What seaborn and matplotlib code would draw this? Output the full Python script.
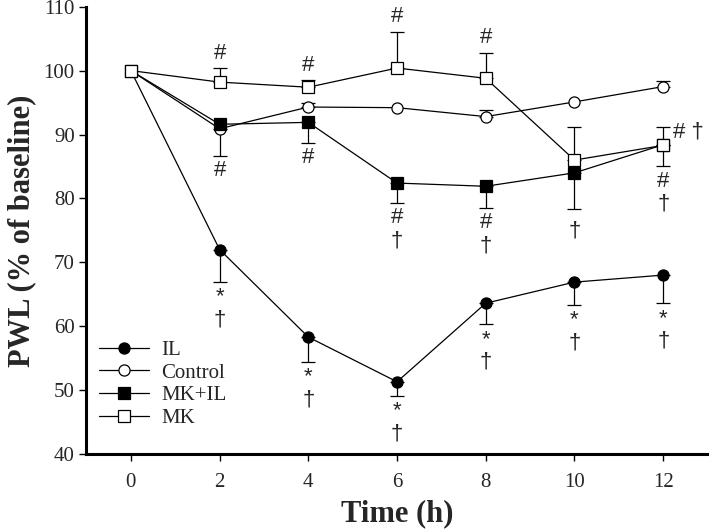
import numpy as np
import pandas as pd
import matplotlib
matplotlib.use("Agg")
import matplotlib.pyplot as plt
import seaborn as sns

# time points (h)
hours = [0, 2, 4, 6, 8, 10, 12]

# PWL, % of baseline
il_mean = [100, 72.0, 58.3, 51.3, 63.6, 66.9, 68.0]
il_err_lo = [0, 5.1, 3.9, 2.2, 3.3, 3.6, 4.4]
il_err_hi = [0, 0, 0, 0, 0, 0, 0]

control_mean = [100, 90.9, 94.3, 94.2, 92.8, 95.1, 97.5]
control_err_lo = [0, 4.2, 0, 0, 0, 0, 0]
control_err_hi = [0, 0, 0.7, 0, 1.1, 0, 0.9]

mkil_mean = [100, 91.6, 91.9, 82.4, 81.9, 84.0, 88.4]
mkil_err_lo = [0, 0, 3.2, 3.1, 3.4, 5.7, 3.4]
mkil_err_hi = [0, 0, 0, 0, 0, 0, 0]

mk_mean = [100, 98.2, 97.4, 100.4, 98.8, 86.0, 88.3]
mk_err_lo = [0, 0, 0, 0, 0, 0, 0]
mk_err_hi = [0, 2.2, 1.1, 5.7, 4.0, 5.1, 2.8]

groups = ["IL", "Control", "MK+IL", "MK"]

# significance marks: (group, hour, side of error bar, symbols from nearest outward)
marks = [
    ("MK", 2, "above", ["#"]),
    ("MK", 4, "above", ["#"]),
    ("MK", 6, "above", ["#"]),
    ("MK", 8, "above", ["#"]),
    ("Control", 2, "below", ["#"]),
    ("MK+IL", 4, "below", ["#"]),
    ("MK+IL", 6, "below", ["#", "\u2020"]),
    ("MK+IL", 8, "below", ["#", "\u2020"]),
    ("MK+IL", 10, "below", ["\u2020"]),
    ("MK+IL", 12, "below", ["#", "\u2020"]),
    ("IL", 2, "below", ["*", "\u2020"]),
    ("IL", 4, "below", ["*", "\u2020"]),
    ("IL", 6, "below", ["*", "\u2020"]),
    ("IL", 8, "below", ["*", "\u2020"]),
    ("IL", 10, "below", ["*", "\u2020"]),
    ("IL", 12, "below", ["*", "\u2020"]),
]
side_mark = ("MK", 12, "# \u2020")

series = {
    "IL": (il_mean, il_err_lo, il_err_hi),
    "Control": (control_mean, control_err_lo, control_err_hi),
    "MK+IL": (mkil_mean, mkil_err_lo, mkil_err_hi),
    "MK": (mk_mean, mk_err_lo, mk_err_hi),
}
styles = {
    "IL": dict(marker="o", mfc="black"),
    "Control": dict(marker="o", mfc="white"),
    "MK+IL": dict(marker="s", mfc="black"),
    "MK": dict(marker="s", mfc="white"),
}

rows = []
for g in groups:
    m, lo, hi = series[g]
    for t, v, a, b in zip(hours, m, lo, hi):
        rows.append(dict(group=g, time=t, pwl=v, lo=a, hi=b))
df = pd.DataFrame(rows)

sns.set_style("ticks")
plt.rcParams["font.family"] = ["Liberation Serif", "DejaVu Serif"]
sym_font = ["Liberation Sans", "DejaVu Sans"]

fig = plt.figure(figsize=(7.09, 5.32), dpi=100)
ax = fig.add_axes([0.122, 0.1466, 0.876, 0.8408])

for g in groups:
    d = df[df["group"] == g]
    dl = d[d["lo"] > 0]
    if len(dl):
        ax.errorbar(dl["time"], dl["pwl"], yerr=[dl["lo"], np.zeros(len(dl))],
                    fmt="none", ecolor="black", elinewidth=0.9, capsize=5,
                    capthick=0.9, zorder=1)
    dh = d[d["hi"] > 0]
    if len(dh):
        ax.errorbar(dh["time"], dh["pwl"], yerr=[np.zeros(len(dh)), dh["hi"]],
                    fmt="none", ecolor="black", elinewidth=0.9, capsize=5,
                    capthick=0.9, zorder=1)

for g in groups:
    d = df[df["group"] == g]
    st = styles[g]
    sns.lineplot(data=d, x="time", y="pwl", ax=ax, color="black", lw=0.9,
                 marker=st["marker"], markersize=8, markerfacecolor=st["mfc"],
                 markeredgecolor="black", markeredgewidth=0.9, label=g,
                 zorder=3)

# significance symbols next to the error bar ends
for g, t, side, syms in marks:
    row = df[(df["group"] == g) & (df["time"] == t)].iloc[0]
    if side == "above":
        y_end = row["pwl"] + row["hi"]
        for k, s in enumerate(syms):
            ax.annotate(s, (t, y_end), xytext=(0, 15 + 25 * k),
                        textcoords="offset pixels", ha="center", va="center",
                        fontsize=16, family=sym_font)
    else:
        y_end = row["pwl"] - row["lo"]
        for k, s in enumerate(syms):
            off = 15 + 23 * k
            if s == "\u2020" and k == 0:
                off = 22
            ax.annotate(s, (t, y_end), xytext=(0, -off),
                        textcoords="offset pixels", ha="center", va="center",
                        fontsize=16, family=sym_font)

g, t, s = side_mark
row = df[(df["group"] == g) & (df["time"] == t)].iloc[0]
ax.annotate(s, (t, row["pwl"]), xytext=(10, 13), textcoords="offset pixels",
            ha="left", va="center", fontsize=16, family=sym_font)

ax.set_xlim(-1, 13)
ax.set_ylim(40, 110)
ax.set_xticks(hours)
ax.set_yticks(range(40, 111, 10))
ax.tick_params(labelsize=15, width=1, length=5, color="black")
ax.tick_params(axis="x", pad=9)
ax.set_xlabel("Time (h)", fontsize=22, fontweight="bold", labelpad=5)
ax.set_ylabel("PWL (% of baseline)", fontsize=22, fontweight="bold", labelpad=5)
sns.despine(ax=ax)
for sp in ["left", "bottom"]:
    ax.spines[sp].set_linewidth(2.2)
    ax.spines[sp].set_color("black")

ax.legend(loc="lower left", bbox_to_anchor=(0.0, 0.03), frameon=False,
          fontsize=15, handlelength=2.4, labelspacing=0.15, handletextpad=0.6,
          borderaxespad=0.2)

fig.savefig("out.png", dpi=100)
